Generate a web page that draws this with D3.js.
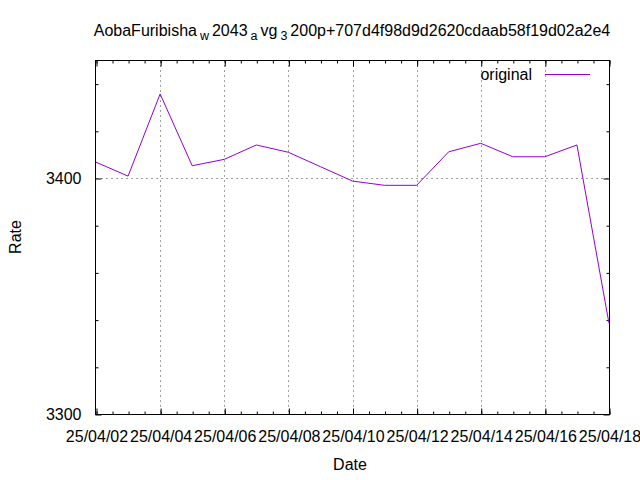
<!DOCTYPE html>
<html><head><meta charset="utf-8">
<script src="https://cdn.jsdelivr.net/npm/d3@7"></script>
<style>
body{margin:0;background:#fff;}
svg{display:block;}
text{font-family:"Liberation Sans",Arial,sans-serif;fill:#000;}
</style></head>
<body><svg id="c" width="640" height="480"></svg>
<script>
const dates = ["25/04/02","25/04/03","25/04/04","25/04/05","25/04/06","25/04/07","25/04/08","25/04/09","25/04/10","25/04/11","25/04/12","25/04/13","25/04/14","25/04/15","25/04/16","25/04/17","25/04/18"];
const values = [3406.7,3400.8,3435.6,3405.2,3407.9,3414.0,3410.9,3404.8,3398.7,3396.9,3396.9,3411.1,3414.7,3409.0,3409.0,3414.0,3338.4];
const xTickLabels = ["25/04/02","25/04/04","25/04/06","25/04/08","25/04/10","25/04/12","25/04/14","25/04/16","25/04/18"];
const yTickValues = [3300,3400];
const yMinorValues = [3320,3340,3360,3380,3420,3440];
const seriesName = "original";
const titleParts = [["AobaFuribisha",0],["w",1],["2043",0],["a",1],["vg",0],["3",1],["200p+707d4f98d9d2620cdaab58f19d02a2e4",0]];

const FS = "16px";
const parse = d3.utcParse("%y/%m/%d");
const fmt = d3.utcFormat("%y/%m/%d");
const data = dates.map((d,i)=>({t:parse(d), v:values[i]}));

const L=96,R=609,T=60,B=414;
const svg = d3.select("#c");
const x = d3.scaleUtc().domain([parse(dates[0]), parse(dates[dates.length-1])]).range([L,R]);
const y = d3.scaleLinear().domain([3300,3450]).range([B,T]);

const xMajor = xTickLabels.map(parse);
const xMinor = d3.utcHour.every(12).range(x.domain()[0], d3.utcHour.offset(x.domain()[1],1));

// grid
const grid = svg.append("g").attr("stroke","#a0a0a0").attr("stroke-width",1).attr("stroke-dasharray","2,3");
xMajor.filter((d,i)=>i>0 && i<xMajor.length-1).forEach(d=>{
  const px=Math.round(x(d))+0.5;
  grid.append("line").attr("x1",px).attr("x2",px).attr("y1",T).attr("y2",B);
});
yTickValues.filter(v=>v>3300 && v<3450).forEach(v=>{
  const py=Math.round(y(v))+0.5;
  grid.append("line").attr("x1",L).attr("x2",R).attr("y1",py).attr("y2",py);
});

// axes (inward ticks, mirrored)
function styleAxis(g){ g.select(".domain").remove(); g.selectAll("line").attr("stroke","#000"); g.selectAll("text").attr("font-size",FS).attr("font-family","Liberation Sans, Arial, sans-serif"); }
svg.append("g").attr("transform",`translate(0.5,${B+0.5})`)
  .call(d3.axisBottom(x).tickValues(xMinor).tickSize(-3).tickFormat("")).call(styleAxis);
svg.append("g").attr("transform",`translate(0.5,${B+0.5})`)
  .call(d3.axisBottom(x).tickValues(xMajor).tickSize(-6).tickPadding(16).tickFormat(fmt)).call(styleAxis);
svg.append("g").attr("transform",`translate(0.5,${T+0.5})`)
  .call(d3.axisTop(x).tickValues(xMinor).tickSize(-3).tickFormat("")).call(styleAxis);
svg.append("g").attr("transform",`translate(0.5,${T+0.5})`)
  .call(d3.axisTop(x).tickValues(xMajor).tickSize(-6).tickFormat("")).call(styleAxis);
svg.append("g").attr("transform",`translate(${L-0.5},0.5)`)
  .call(d3.axisLeft(y).tickValues(yMinorValues).tickSize(-3).tickFormat("")).call(styleAxis);
svg.append("g").attr("transform",`translate(${L-0.5},0.5)`)
  .call(d3.axisLeft(y).tickValues(yTickValues).tickSize(-6).tickPadding(14).tickFormat(d3.format("d"))).call(styleAxis);
svg.append("g").attr("transform",`translate(${R+0.5},0.5)`)
  .call(d3.axisRight(y).tickValues(yMinorValues).tickSize(-3).tickFormat("")).call(styleAxis);
svg.append("g").attr("transform",`translate(${R+0.5},0.5)`)
  .call(d3.axisRight(y).tickValues(yTickValues).tickSize(-6).tickFormat("")).call(styleAxis);

// frame
svg.append("rect").attr("x",L-0.5).attr("y",T+0.5).attr("width",R-L+1).attr("height",B-T)
  .attr("fill","none").attr("stroke","#000").attr("stroke-width",1);

// line
svg.append("path").datum(data)
  .attr("fill","none").attr("stroke","#9400d3").attr("stroke-width",1)
  .attr("d", d3.line().x(d=>x(d.t)).y(d=>y(d.v)));

// legend
svg.append("text").attr("x",532).attr("y",80).attr("text-anchor","end").attr("font-size",FS).text(seriesName);
svg.append("line").attr("x1",545).attr("x2",590).attr("y1",74.5).attr("y2",74.5).attr("stroke","#9400d3").attr("stroke-width",1);

// labels
svg.append("text").attr("x",350).attr("y",470).attr("text-anchor","middle").attr("font-size",FS).text("Date");
svg.append("text").attr("transform","translate(21,237) rotate(-90)").attr("text-anchor","middle").attr("font-size",FS).text("Rate");

// title
const tt = svg.append("text").attr("x",352).attr("y",36).attr("text-anchor","middle").attr("font-size",FS);
titleParts.forEach(([s,sub],i)=>{
  const ts = tt.append("tspan").text(s);
  const prevSub = i>0 ? titleParts[i-1][1] : 0;
  if(sub){ ts.attr("font-size","12.5px").attr("dy",4).attr("dx",3); }
  else if(prevSub){ ts.attr("dy",-4).attr("dx",3); }
});
</script></body></html>
